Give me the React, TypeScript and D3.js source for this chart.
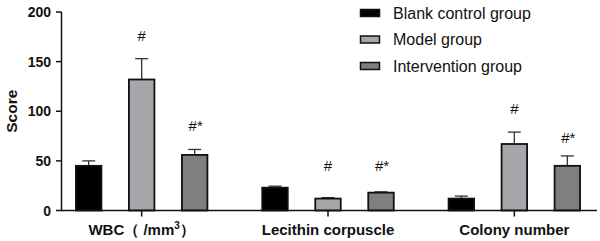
import React from "react";
import * as d3 from "d3";

const categories = ["WBC", "Lecithin corpuscle", "Colony number"];
const groups = ["Blank control group", "Model group", "Intervention group"];
const groupColors = ["#000000", "#a7a7ab", "#7f7f80"];
const blankMeans = [45, 23, 12];
const blankErrors = [5, 1.5, 2.5];
const modelMeans = [132, 12, 67];
const modelErrors = [21, 1, 12];
const interventionMeans = [56, 18, 45];
const interventionErrors = [5.5, 0.8, 10];
const modelMarks = ["#", "#", "#"];
const interventionMarks = ["#*", "#*", "#*"];
const modelMarkLevels = [171, 40, 97];
const interventionMarkLevels = [80, 40, 68];
const yTicks = [0, 50, 100, 150, 200];

export default function App() {
  const W = 600, H = 241;
  const y = d3.scaleLinear().domain([0, 200]).range([210.5, 12]);
  const x = d3.scaleBand().domain(categories).range([48.5, 607.5]).paddingInner(0).paddingOuter(0);
  const inner = d3.scaleBand().domain(groups).range([-65.75, 65.75]).paddingInner(0.519).paddingOuter(0);
  const means = [blankMeans, modelMeans, interventionMeans];
  const errors = [blankErrors, modelErrors, interventionErrors];
  const font = "'Liberation Sans', Arial, sans-serif";
  const cx = (c: string) => (x(c) as number) + x.bandwidth() / 2;

  return (
    <svg width={W} height={H} style={{ position: "absolute", left: 0, top: 0, background: "#fff" }} fontFamily={font}>
      {categories.map((c, ci) =>
        groups.map((g, gi) => {
          const bx = cx(c) + (inner(g) as number);
          const bw = inner.bandwidth();
          const mid = bx + bw / 2;
          const v = means[gi][ci];
          const e = errors[gi][ci];
          const top = y(v);
          const etop = y(v + e);
          return (
            <g key={c + g}>
              <line x1={mid} x2={mid} y1={top} y2={etop} stroke="#333" strokeWidth={1.3} />
              <line x1={mid - 6.5} x2={mid + 6.5} y1={etop} y2={etop} stroke="#333" strokeWidth={1.3} />
              <rect x={bx} y={top} width={bw} height={y(0) - top} fill={groupColors[gi]} stroke="#111" strokeWidth={1.8} />
            </g>
          );
        })
      )}
      {categories.map((c, ci) => (
        <g key={"m" + c} fontSize={15} fill="#111" textAnchor="middle">
          <text x={cx(c) + (inner(groups[1]) as number) + inner.bandwidth() / 2} y={y(modelMarkLevels[ci])}>{modelMarks[ci]}</text>
          <text x={cx(c) + (inner(groups[2]) as number) + inner.bandwidth() / 2 + 1} y={y(interventionMarkLevels[ci])}>{interventionMarks[ci]}</text>
        </g>
      ))}
      <line x1={61.5} x2={61.5} y1={y(200)} y2={y(0) + 0.75} stroke="#111" strokeWidth={1.5} />
      {yTicks.map((t) => (
        <g key={t}>
          <line x1={56} x2={61.5} y1={y(t)} y2={y(t)} stroke="#111" strokeWidth={1.5} />
          <text x={51} y={y(t) + 5} fontSize={14} fontWeight="bold" textAnchor="end" fill="#111">{t}</text>
        </g>
      ))}
      <text transform={`translate(17,${y(100)}) rotate(-90)`} fontSize={15.5} fontWeight="bold" textAnchor="middle" fill="#111">Score</text>
      <line x1={61.5} x2={597} y1={y(0)} y2={y(0)} stroke="#111" strokeWidth={1.5} />
      {categories.map((c, ci) => (
        <g key={"x" + c}>
          <line x1={cx(c)} x2={cx(c)} y1={y(0)} y2={y(0) + 6} stroke="#111" strokeWidth={1.5} />
          <text x={cx(c)} y={235} fontSize={15} fontWeight="bold" textAnchor="middle" fill="#111">
            {ci === 0 ? (
              <>
                {"WBC\uFF08 /mm"}
                <tspan fontSize={10} dy={-6}>3</tspan>
                <tspan dy={6}>{"\uFF09"}</tspan>
              </>
            ) : c}
          </text>
        </g>
      ))}
      {groups.map((g, gi) => (
        <g key={"l" + g} transform={`translate(360,${13 + gi * 26.5})`}>
          <rect x={0.5} y={-3.5} width={19} height={7} fill={groupColors[gi]} stroke="#111" strokeWidth={1.5} />
          <text x={33} y={5.5} fontSize={16} fill="#111">{g}</text>
        </g>
      ))}
    </svg>
  );
}
